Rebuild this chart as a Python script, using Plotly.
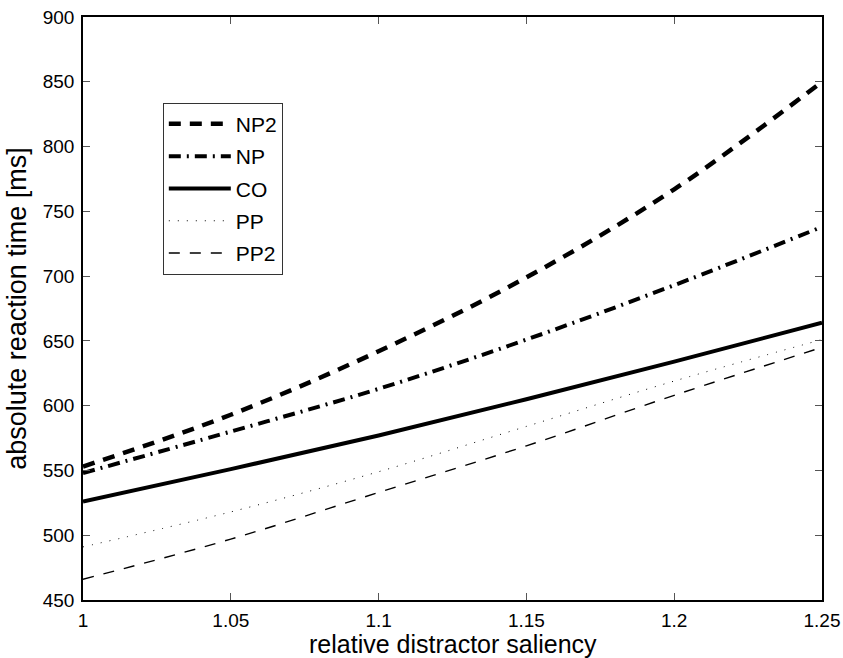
import plotly.graph_objects as go

saliency = [1.0, 1.05, 1.1, 1.15, 1.2, 1.25]
np2 = [553, 593, 642, 699, 767, 850]
np1 = [548, 580, 613, 651, 693, 738]
co = [526, 551, 577, 605, 634, 664]
pp = [491, 518, 549, 584, 619, 651]
pp2 = [466, 497, 533, 569, 608, 645]

x_ticks = [1, 1.05, 1.1, 1.15, 1.2, 1.25]
x_tick_labels = ["1", "1.05", "1.1", "1.15", "1.2", "1.25"]
y_ticks = [450, 500, 550, 600, 650, 700, 750, 800, 850, 900]

series = [
    ("NP2", np2, dict(color="black", width=4.5, dash="12px,9px")),
    ("NP", np1, dict(color="black", width=4, dash="12px,6px,2px,6px")),
    ("CO", co, dict(color="black", width=4, dash="solid")),
    ("PP", pp, dict(color="black", width=1, dash="1px,8px")),
    ("PP2", pp2, dict(color="black", width=1.4, dash="11px,10px")),
]

fig = go.Figure()
for i, (name, vals, line) in enumerate(series):
    fig.add_trace(go.Scatter(x=saliency, y=vals, mode="lines", name=name,
                             line=dict(shape="spline", smoothing=1.0, **line),
                             legendgroup=f"g{i}"))

axis_common = dict(showline=True, linecolor="black", linewidth=1.5, mirror="ticks",
                   ticks="inside", ticklen=7, tickcolor="#555", showgrid=False,
                   zeroline=False, automargin=False,
                   tickfont=dict(size=19, color="black"))

fig.update_layout(
    width=843, height=658,
    margin=dict(l=83, r=21, t=17, b=58),
    paper_bgcolor="white", plot_bgcolor="white",
    font=dict(family="Liberation Sans, Arial, sans-serif", color="black"),
    xaxis=dict(range=[1, 1.25], tickvals=x_ticks, ticktext=x_tick_labels,
               ticklabelstandoff=2, **axis_common),
    yaxis=dict(range=[450, 900], tickvals=y_ticks, ticklabelstandoff=3,
               title=dict(text="absolute reaction time [ms]", font=dict(size=27), standoff=8),
               **axis_common),
    legend=dict(x=0.108, y=0.853, xanchor="left", yanchor="top",
                bgcolor="white", bordercolor="#333", borderwidth=1,
                font=dict(size=21), itemwidth=62, tracegroupgap=2),
    showlegend=True,
    annotations=[dict(text="relative distractor saliency", x=0.5, y=0,
                      xref="paper", yref="paper", xanchor="center", yanchor="top",
                      yshift=-28, showarrow=False, font=dict(size=25))],
)

fig.write_html("out.html", config={"displayModeBar": False},
               post_script="document.body.style.margin='0';document.body.style.overflow='hidden';")
